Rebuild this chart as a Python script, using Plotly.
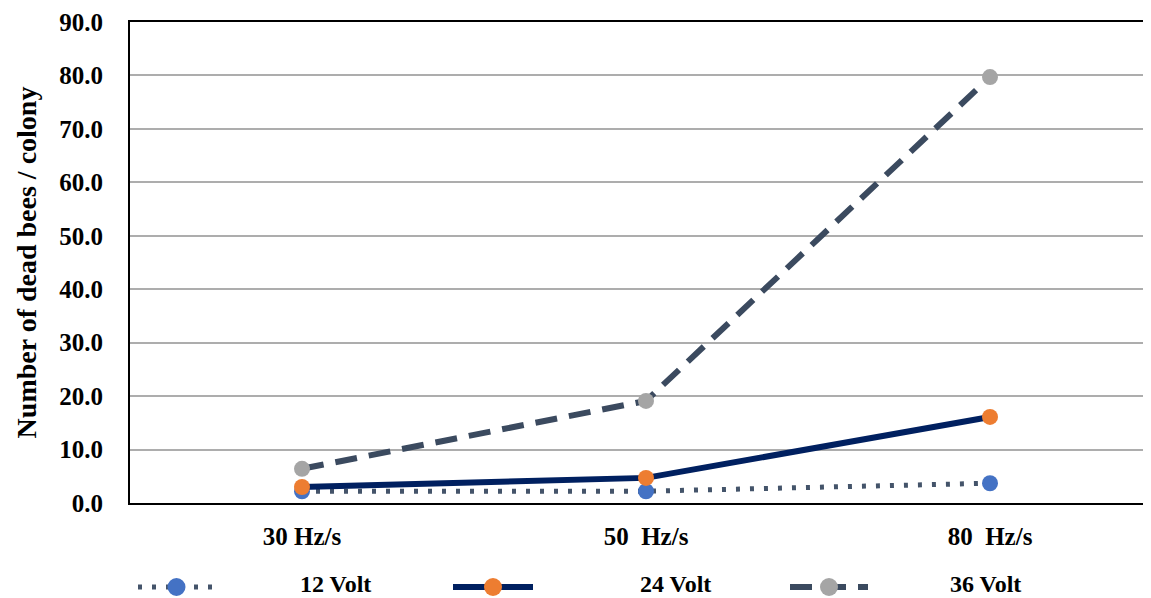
import plotly.graph_objects as go

categories = ["30 Hz/s", "50  Hz/s", "80  Hz/s"]
v12 = [2.2, 2.2, 3.7]
v24 = [3.0, 4.7, 16.1]
v36 = [6.4, 19.1, 79.7]
series_names = ["12 Volt", "24 Volt", "36 Volt"]
y_ticks = [0, 10, 20, 30, 40, 50, 60, 70, 80, 90]

FONT = "Times New Roman, Liberation Serif, serif"
line_col = ["#44546A", "#002060", "#3B4A5F"]
mk_col = ["#4472C4", "#ED7D31", "#A5A5A5"]
dashes = ["4px,10px", "solid", "22px,12px"]
widths = [5, 6, 6]

xs = list(range(len(categories)))
fig = go.Figure()
for name, vals, lc, mc, d, w in zip(series_names, [v12, v24, v36], line_col, mk_col, dashes, widths):
    fig.add_trace(go.Scatter(
        x=xs, y=vals, mode="lines+markers", name=name,
        line=dict(color=lc, width=w, dash=d),
        marker=dict(color=mc, size=16, line=dict(width=0)),
        showlegend=False,
    ))

OFF = 8  # page body margin
W, H = 1151 - OFF, 598 - OFF
L, R, T = 130 - OFF, 0, 22 - OFF
B = H - (503 - OFF)
pw = W - L - R
ph = H - T - B
def px_x(p):
    return (p - OFF - L) / pw
def px_y(p):
    return (H - B - (p - OFF)) / ph

# manual legend
leg_items = [
    (138, 215, 300),
    (453, 533, 640),
    (790, 868, 950),
]
ly = px_y(587)
shapes = []
annotations = []
for (x0, x1, tx), name, lc, mc, d, w in zip(leg_items, series_names, line_col, mk_col, dashes, widths):
    shapes.append(dict(type="line", xref="paper", yref="paper", x0=px_x(x0), x1=px_x(x1), y0=ly, y1=ly,
                       line=dict(color=lc, width=w, dash=d)))
    cx = (x0 + x1) / 2
    shapes.append(dict(type="circle", xref="paper", yref="paper",
                       x0=px_x(cx - 9), x1=px_x(cx + 9), y0=px_y(587 + 9), y1=px_y(587 - 9),
                       fillcolor=mc, line=dict(width=0)))
    annotations.append(dict(text="<b>" + name + "</b>", xref="paper", yref="paper", x=px_x(tx - 2), y=px_y(584),
                            xanchor="left", yanchor="middle", showarrow=False,
                            font=dict(family=FONT, size=24, color="#000000")))

fig.update_layout(
    width=W, height=H,
    margin=dict(l=L, r=R, t=T, b=B),
    paper_bgcolor="white", plot_bgcolor="white",
    shapes=shapes, annotations=annotations,
    showlegend=False,
    font=dict(family=FONT, color="#000000"),
)
fig.update_xaxes(
    range=[-0.5, -0.5 + pw / 344.0],
    tickvals=xs, ticktext=["<b>" + c.replace("  ", "\u00a0 ") + "</b>" for c in categories],
    tickfont=dict(family=FONT, size=25, color="#000000"),
    showgrid=False, zeroline=False,
    showline=True, linecolor="#000000", linewidth=2, mirror=True,
    ticks="", ticklabelstandoff=10,
)
fig.update_yaxes(
    range=[0, 90], tickvals=y_ticks, ticktext=["<b>%.1f</b>" % v for v in y_ticks],
    tickfont=dict(family=FONT, size=25, color="#000000"),
    showgrid=True, gridcolor="#ADADAD", gridwidth=2,
    zeroline=False,
    showline=True, linecolor="#000000", linewidth=2,
    ticks="", ticklabelstandoff=20,
    title=dict(text="<b>Number of dead bees / colony</b>",
               font=dict(family=FONT, size=28, color="#000000"), standoff=14),
)
fig.write_html("out.html")
